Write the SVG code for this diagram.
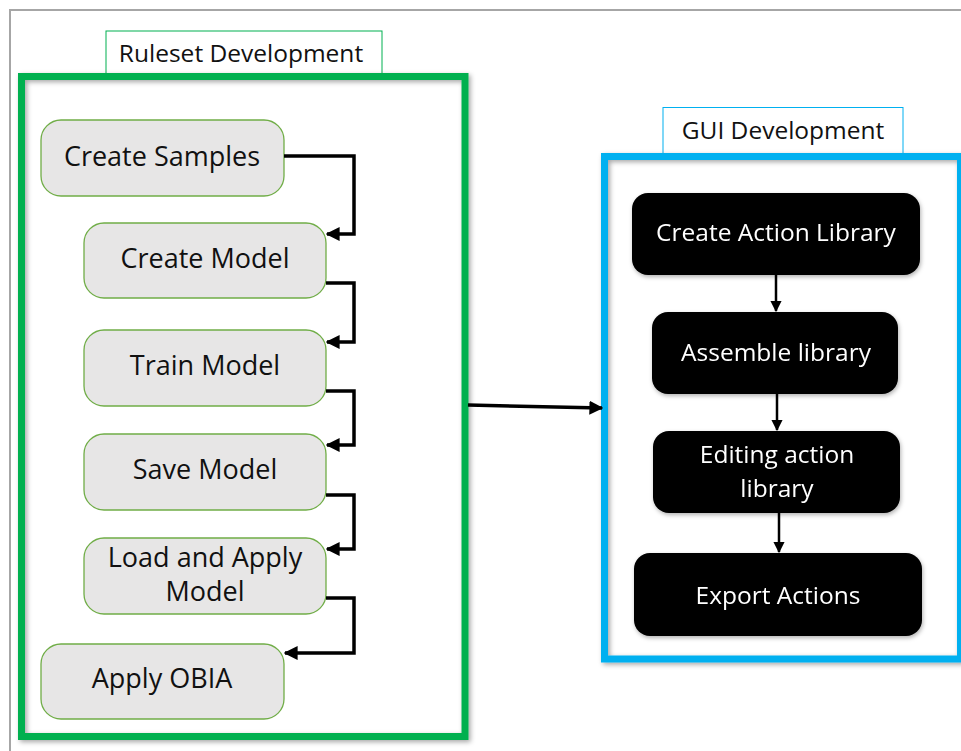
<svg xmlns="http://www.w3.org/2000/svg" width="961" height="751" viewBox="0 0 961 751">
  <defs>
    <filter id="shadow" x="-10%" y="-10%" width="120%" height="120%">
      <feDropShadow dx="2" dy="2" stdDeviation="2.5" flood-color="#000" flood-opacity="0.35"/>
    </filter>
    <filter id="nodeShadow" x="-10%" y="-10%" width="120%" height="125%">
      <feDropShadow dx="1" dy="2" stdDeviation="2" flood-color="#000" flood-opacity="0.3"/>
    </filter>
    <marker id="arrow" viewBox="0 0 10 10" refX="9" refY="5" markerWidth="4" markerHeight="4" orient="auto" markerUnits="strokeWidth">
      <path d="M0,0 L10,5 L0,10 Z" fill="#000"/>
    </marker>
    <marker id="arrowThin" viewBox="0 0 10 10" refX="9" refY="5" markerWidth="4.5" markerHeight="4.5" orient="auto" markerUnits="strokeWidth">
      <path d="M0,0 L10,5 L0,10 Z" fill="#000"/>
    </marker>
  </defs>
  <style>
    .frame { fill: none; stroke: #A6A6A6; stroke-width: 2; }
    .label { font-family: "Open Sans", "Liberation Sans", sans-serif; font-size: 24.5px; fill: #111; text-anchor: middle; }
    .step { fill: #E7E6E6; stroke: #70AD47; stroke-width: 1.3; }
    .step-text { font-family: "Open Sans", "Liberation Sans", sans-serif; font-size: 27px; fill: #111; text-anchor: middle; }
    .gui { fill: #000; }
    .gui-text { font-family: "Open Sans", "Liberation Sans", sans-serif; font-size: 24.5px; fill: #fff; text-anchor: middle; }
    .link { fill: none; stroke: #000; stroke-width: 3.5; stroke-linejoin: miter; marker-end: url(#arrow); }
    .link-thin { fill: none; stroke: #000; stroke-width: 2.5; marker-end: url(#arrowThin); }
  </style>

  <rect width="961" height="751" fill="#fff"/>
  <!-- outer frame -->
  <path class="frame" d="M10,751 L10,10 L961,10"/>

  <!-- Ruleset Development container -->
  <g id="ruleset-group">
    <rect x="106" y="31" width="276" height="46" fill="#fff" stroke="#00B050" stroke-width="1"/>
    <text class="label" x="241" y="62">Ruleset Development</text>
    <rect x="21.5" y="76.5" width="443.5" height="660" fill="none" stroke="#00B050" stroke-width="7" filter="url(#shadow)"/>
  </g>

  <!-- GUI Development container -->
  <g id="gui-group">
    <rect x="663" y="107.5" width="240" height="48" fill="#fff" stroke="#00B0F0" stroke-width="1"/>
    <text class="label" x="783" y="139">GUI Development</text>
    <rect x="604.5" y="156.5" width="356" height="502.5" fill="none" stroke="#00B0F0" stroke-width="7" filter="url(#shadow)"/>
  </g>

  <!-- Ruleset steps -->
  <g id="create-samples">
    <rect class="step" x="41" y="120" width="243" height="76" rx="20"/>
    <text class="step-text" x="162" y="166">Create Samples</text>
  </g>
  <g id="create-model">
    <rect class="step" x="84" y="223" width="242" height="75" rx="20"/>
    <text class="step-text" x="205" y="268">Create Model</text>
  </g>
  <g id="train-model">
    <rect class="step" x="84" y="330" width="242" height="76" rx="20"/>
    <text class="step-text" x="205" y="375">Train Model</text>
  </g>
  <g id="save-model">
    <rect class="step" x="84" y="434" width="242" height="76" rx="20"/>
    <text class="step-text" x="205" y="479">Save Model</text>
  </g>
  <g id="load-apply-model">
    <rect class="step" x="84" y="538" width="242" height="76" rx="20"/>
    <text class="step-text" x="205" y="567">Load and Apply</text>
    <text class="step-text" x="205" y="601">Model</text>
  </g>
  <g id="apply-obia">
    <rect class="step" x="41" y="644" width="243" height="75" rx="20"/>
    <text class="step-text" x="162" y="688">Apply OBIA</text>
  </g>

  <!-- GUI steps -->
  <g id="create-action-library" filter="url(#nodeShadow)">
    <rect class="gui" x="632" y="193" width="288" height="82" rx="16"/>
    <text class="gui-text" x="776" y="241">Create Action Library</text>
  </g>
  <g id="assemble-library" filter="url(#nodeShadow)">
    <rect class="gui" x="652" y="312" width="246" height="82" rx="16"/>
    <text class="gui-text" x="776" y="361">Assemble library</text>
  </g>
  <g id="editing-action-library" filter="url(#nodeShadow)">
    <rect class="gui" x="653" y="431" width="247" height="82" rx="16"/>
    <text class="gui-text" x="777" y="463">Editing action</text>
    <text class="gui-text" x="777" y="497">library</text>
  </g>
  <g id="export-actions" filter="url(#nodeShadow)">
    <rect class="gui" x="634" y="553" width="288" height="83" rx="16"/>
    <text class="gui-text" x="778" y="604">Export Actions</text>
  </g>

  <!-- connectors -->
  <g id="connectors">
    <path class="link" d="M284,156 H354 V234 H327"/>
    <path class="link" d="M326,283 H354 V342 H327"/>
    <path class="link" d="M326,391 H354 V445 H327"/>
    <path class="link" d="M326,495 H354 V549 H327"/>
    <path class="link" d="M326,598 H354 V653 H285"/>
    <path class="link" d="M468,405 L602,408"/>
    <path class="link-thin" d="M776,275 V311"/>
    <path class="link-thin" d="M777,394 V430"/>
    <path class="link-thin" d="M779,513 V552"/>
  </g>
</svg>
